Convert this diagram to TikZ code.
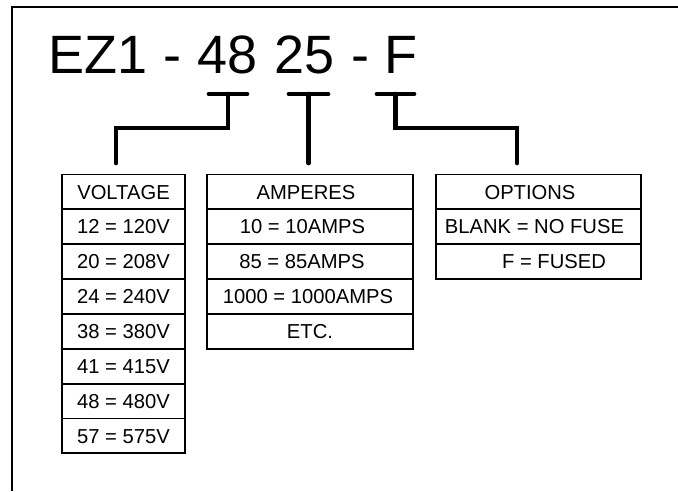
\documentclass[tikz,border=0pt]{standalone}
\usepackage{fontspec}
\setmainfont{Liberation Sans}
\begin{document}
\begin{tikzpicture}[x=1pt,y=-1pt,
  frameline/.style={line width=2.4pt},
  cell/.style={draw, line width=1.9pt, inner sep=0pt, outer sep=0pt, minimum height=34.85pt},
  txt/.style={inner sep=0pt, text height=14.4pt, text depth=0pt, font=\fontsize{20.2}{23}\selectfont},
  conn/.style={line width=4.7pt, line cap=round, line join=miter},
  bar/.style={line width=4.7pt, line cap=round},
  titletext/.style={font=\fontsize{54}{60}\selectfont, inner sep=0pt, outer sep=0pt, anchor=base}]
\useasboundingbox (0,0) rectangle (678,491);
% frame (left and top edges visible)
\draw[frameline] (12,491) -- (12,7) -- (678,7);
% title
\node[titletext, anchor=base west] (tEZ) at (48,73) {EZ1};
\node[titletext] (tD1) at (172.5,73) {-};
\node[titletext] (t48) at (228,73) {48};
\node[titletext] (t25) at (305,73) {25};
\node[titletext] (tD2) at (360,73) {-};
\node[titletext] (tF) at (401,73) {F};
% voltage table
\foreach \t/\dx [count=\i] in {VOLTAGE/0, 12 = 120V/0, 20 = 208V/0, 24 = 240V/0, 38 = 380V/0, 41 = 415V/0, 48 = 480V/0, 57 = 575V/0}{
  \node[cell, minimum width=123pt] (v\i) at (123.5,{174.5+34.85*(\i-0.5)}) {};
  \node[txt, xshift=\dx pt] (vt\i) at (v\i) {\t};
}
% amperes table
\foreach \t/\dx [count=\i] in {AMPERES/-4, 10 = 10AMPS/-7.5, 85 = 85AMPS/-8, 1000 = 1000AMPS/-2, ETC./0}{
  \node[cell, minimum width=206pt] (a\i) at (310,{174.5+34.85*(\i-0.5)}) {};
  \node[txt, xshift=\dx pt] (at\i) at (a\i) {\t};
}
% options table
\foreach \t/\dx [count=\i] in {OPTIONS/-8.5, BLANK = NO FUSE/-4, F = FUSED/15.5}{
  \node[cell, minimum width=205pt] (o\i) at (538.5,{174.5+34.85*(\i-0.5)}) {};
  \node[txt, xshift=\dx pt] (ot\i) at (o\i) {\t};
}
% brackets under the code
\coordinate (c48) at (228,94);
\coordinate (c25) at (308.5,94);
\coordinate (cF) at (395.5,94);
\coordinate (e48) at (116,163);
\coordinate (e25) at (308.5,163);
\coordinate (eF) at (517,163);
\draw[bar] ([xshift=-19pt]c48) -- ([xshift=19pt]c48);
\draw[bar] ([xshift=-19.5pt]c25) -- ([xshift=19.5pt]c25);
\draw[bar] ([xshift=-18.5pt]cF) -- ([xshift=18.5pt]cF);
\draw[conn] (c48) -- ++(0,34) -| (e48);
\draw[conn] (c25) -- (e25);
\draw[conn] (cF) -- ++(0,34) -| (eF);
\end{tikzpicture}
\end{document}
